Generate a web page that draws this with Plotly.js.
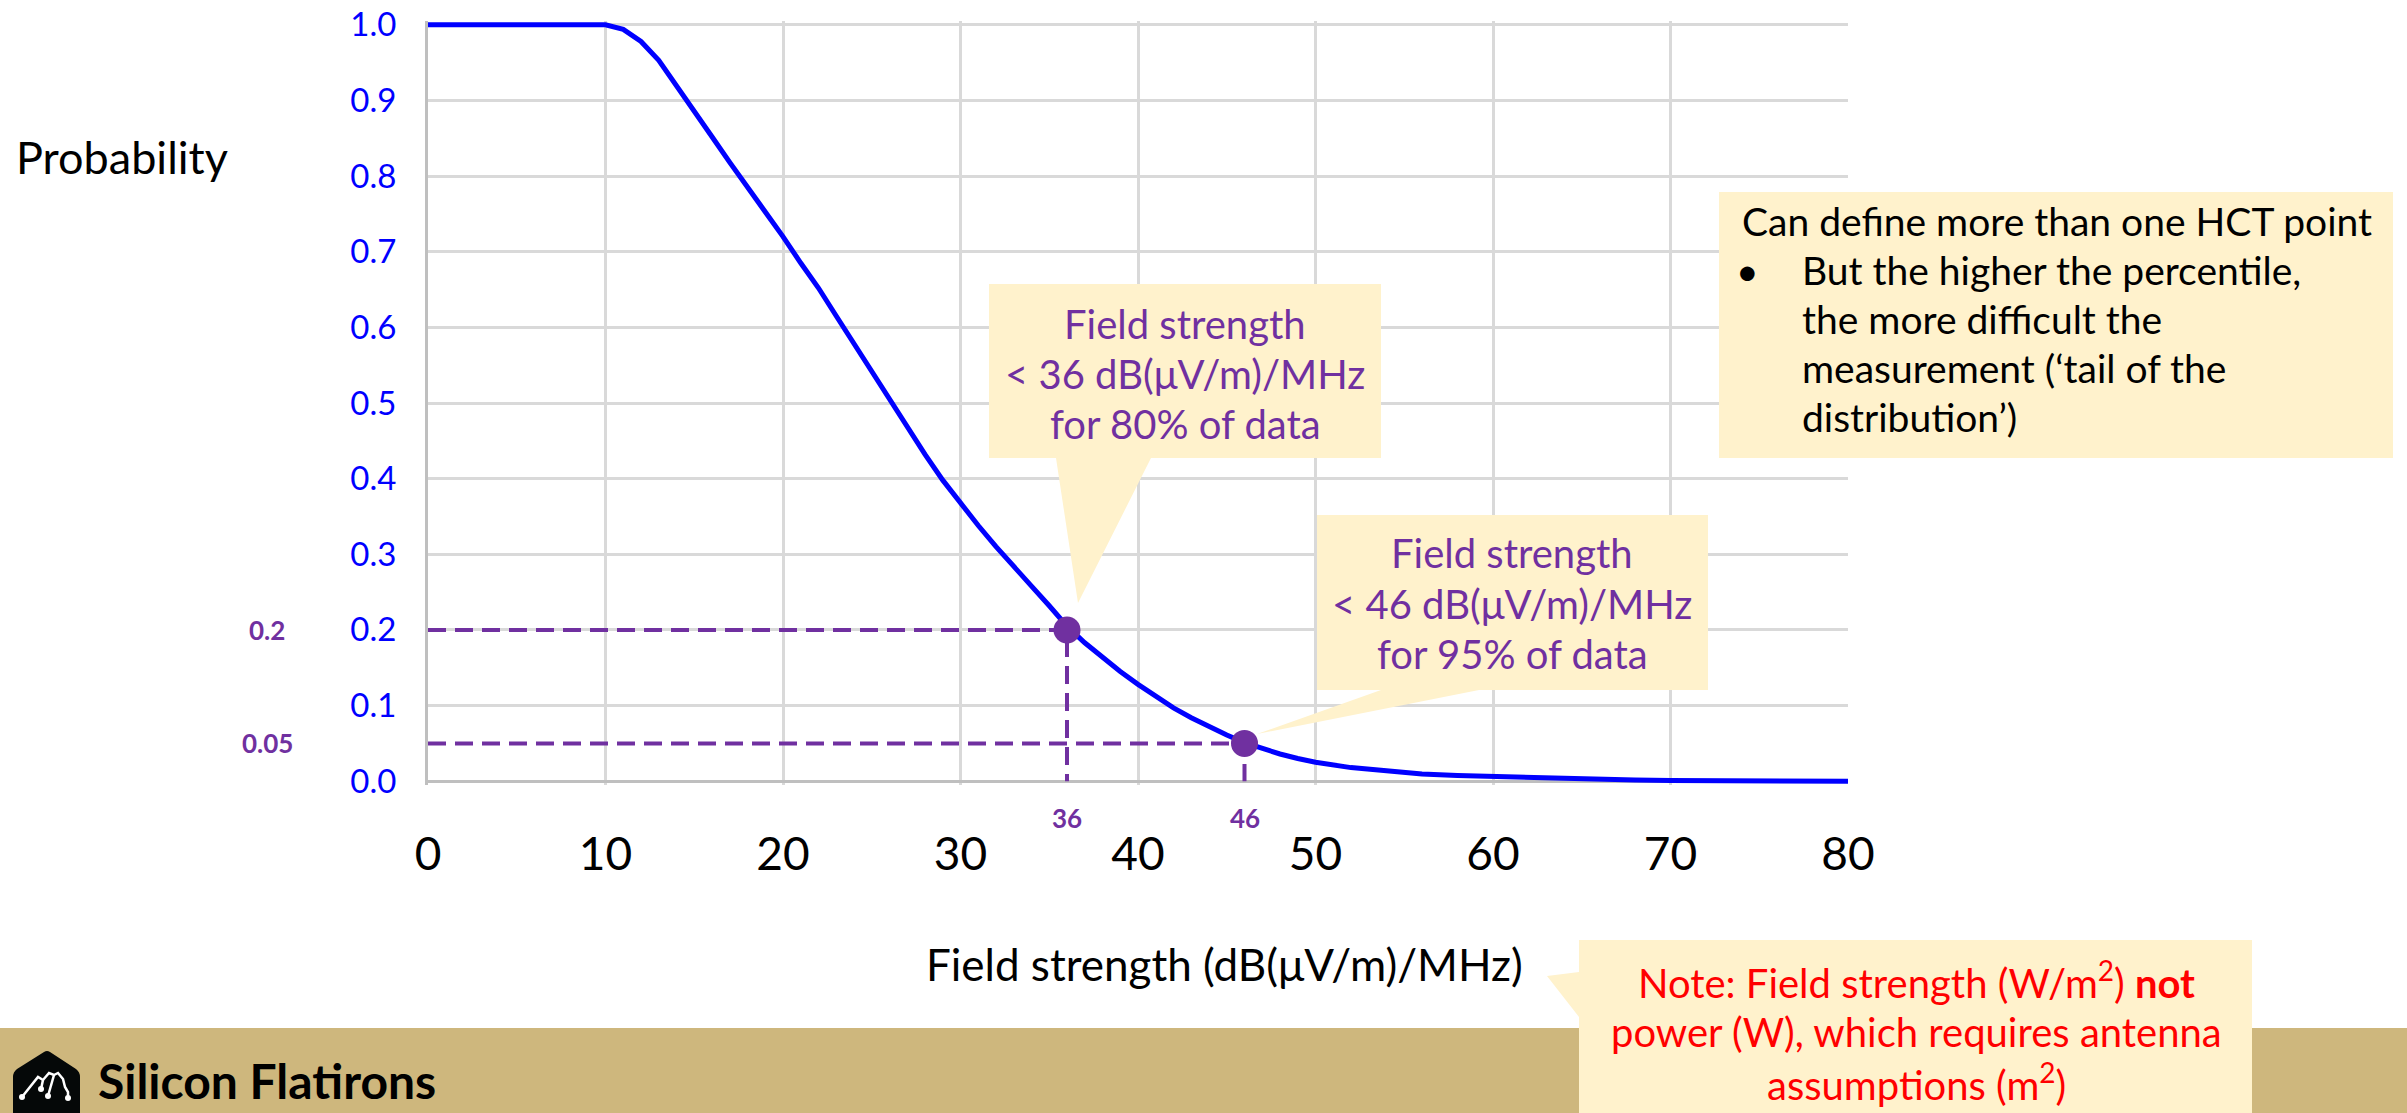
<!DOCTYPE html>
<html>
<head>
<meta charset="utf-8">
<script src="https://cdn.plot.ly/plotly-3.0.1.min.js"></script>
<style>
  html, body { margin: 0; padding: 0; background: #ffffff; }
  #chart { width: 2407px; height: 1113px; }
</style>
</head>
<body>
<div id="chart"></div>
<script>
// Complementary CDF of measured field strength
const fieldStrength = [0, 5, 10, 11, 12, 13, 14, 15, 16, 17, 18, 19, 20, 21, 22, 23, 24, 25, 26, 27, 28, 29, 30,
  31, 32, 33, 34, 35, 36, 37, 38, 39, 40, 41, 42, 43, 44, 45, 46, 47, 48, 49, 50,
  52, 54, 56, 58, 60, 62, 65, 68, 70, 75, 80];
const probability = [1, 1, 1, 0.994, 0.978, 0.953, 0.92, 0.885, 0.852, 0.818, 0.786, 0.754, 0.72,
  0.685, 0.652, 0.615, 0.578, 0.542, 0.507, 0.47, 0.432, 0.398, 0.367,
  0.338, 0.31, 0.283, 0.258, 0.232, 0.205, 0.183, 0.163, 0.145, 0.128,
  0.112, 0.097, 0.084, 0.072, 0.061, 0.051, 0.043, 0.036, 0.03, 0.025,
  0.018, 0.013, 0.0095, 0.0075, 0.006, 0.0045, 0.003, 0.0015, 0.001, 0.0003, 0];

// Harm claim thresholds (HCT points)
const thresholdField = [36, 46];
const thresholdProb = [0.2, 0.05];
const thresholdShare = ['80%', '95%'];

// Axis ticks
const xTicks = [0, 10, 20, 30, 40, 50, 60, 70, 80];
const yTicks = [0, 0.1, 0.2, 0.3, 0.4, 0.5, 0.6, 0.7, 0.8, 0.9, 1.0];
const yTickText = yTicks.map(v => v.toFixed(1));

// Page geometry (pixels) and helpers to place decorations in paper space
const W = 2407, H = 1113;
const M = { l: 428, r: 559, t: 21, b: 328 };
const PW = W - M.l - M.r;
const PH = H - M.t - M.b;
const fx = px => (px - M.l) / PW;
const fy = py => (H - M.b - py) / PH;
const pt = (x, y) => fx(x) + ',' + fy(y);
const poly = pts => 'M' + pts.map(p => pt(p[0], p[1])).join('L') + 'Z';
const line = pts => 'M' + pts.map(p => pt(p[0], p[1])).join('L');

const FONT = 'Lato, "Open Sans", "DejaVu Sans", sans-serif';
const PURPLE = '#7030A0';
const CALLOUT = '#FFF2CC';

// Traces
const traces = [];
thresholdField.forEach((xv, i) => {
  traces.push({
    x: [0, xv, xv], y: [thresholdProb[i], thresholdProb[i], 0],
    mode: 'lines', type: 'scatter', hoverinfo: 'skip', showlegend: false,
    line: { color: PURPLE, width: 4, dash: '18px,9px' }
  });
});
traces.push({
  x: fieldStrength, y: probability, mode: 'lines', type: 'scatter', showlegend: false,
  line: { color: '#0000FF', width: 5 }
});
traces.push({
  x: thresholdField, y: thresholdProb, mode: 'markers', type: 'scatter', showlegend: false,
  marker: { color: PURPLE, size: 27 }, cliponaxis: false
});

// Decorative shapes: footer band, logo, callouts
const shapes = [];
shapes.push({ type: 'rect', xref: 'paper', yref: 'paper', layer: 'above',
  x0: fx(0), x1: fx(W), y0: fy(H), y1: fy(1028), fillcolor: '#CEB77D', line: { width: 0 } });

// logo mark
shapes.push({ type: 'path', xref: 'paper', yref: 'paper', layer: 'above',
  path: 'M' + pt(13, 1113) + 'L' + pt(13, 1077) + 'Q' + pt(13, 1072) + ' ' + pt(17, 1069) +
    'L' + pt(44, 1052) + 'Q' + pt(47, 1050) + ' ' + pt(50, 1052) +
    'L' + pt(76, 1069) + 'Q' + pt(80, 1072) + ' ' + pt(80, 1077) + 'L' + pt(80, 1113) + 'Z',
  fillcolor: '#050808', line: { width: 0 } });
shapes.push({ type: 'path', xref: 'paper', yref: 'paper', layer: 'above',
  path: line([[22, 1097], [38, 1077], [43, 1080], [49, 1073], [54, 1075], [58, 1073], [63, 1079], [65, 1087], [68, 1092], [68, 1098]]),
  line: { color: '#ffffff', width: 2.5 } });
shapes.push({ type: 'path', xref: 'paper', yref: 'paper', layer: 'above',
  path: line([[43, 1080], [41, 1089]]), line: { color: '#ffffff', width: 2.5 } });
shapes.push({ type: 'path', xref: 'paper', yref: 'paper', layer: 'above',
  path: line([[54, 1075], [48, 1096]]), line: { color: '#ffffff', width: 2.5 } });
[[22, 1097], [41, 1089], [48, 1096], [68, 1098]].forEach(p => {
  shapes.push({ type: 'circle', xref: 'paper', yref: 'paper', layer: 'above',
    x0: fx(p[0] - 3), x1: fx(p[0] + 3), y0: fy(p[1] + 3), y1: fy(p[1] - 3),
    fillcolor: '#ffffff', line: { width: 0 } });
});

const calloutPaths = [
  [[989, 284], [1381, 284], [1381, 458], [1151, 458], [1078, 603], [1056, 458], [989, 458]],
  [[1317, 515], [1708, 515], [1708, 690], [1479, 690], [1257, 734], [1381, 690], [1317, 690]],
  [[1719, 192], [2393, 192], [2393, 458], [1719, 458]],
  [[1579, 940], [2252, 940], [2252, 1113], [1579, 1113], [1579, 1017], [1547, 976], [1579, 972]]
];
calloutPaths.forEach(p => {
  shapes.push({ type: 'path', xref: 'paper', yref: 'paper', layer: 'above',
    path: poly(p), fillcolor: CALLOUT, line: { width: 0 } });
});

// Annotations
const annotations = [];
const txt = (text, x, y, opts) => Object.assign({
  text: text, xref: 'paper', yref: 'paper', x: fx(x), y: fy(y),
  xanchor: 'center', yanchor: 'middle', showarrow: false,
  font: { family: FONT, size: 39, color: '#000000' }
}, opts || {});

annotations.push(txt('Probability', 14, 157, { xanchor: 'left', font: { family: FONT, size: 45, color: '#000000' } }));
annotations.push(txt('Field strength (dB(μV/m)/MHz)', 1224, 964, { font: { family: FONT, size: 44, color: '#000000' } }));

// threshold value labels next to the axes
thresholdProb.forEach(v => {
  annotations.push({ text: '<b>' + String(v) + '</b>', xref: 'paper', yref: 'y', x: fx(267), y: v,
    xanchor: 'center', yanchor: 'middle', showarrow: false,
    font: { family: FONT, size: 26, color: PURPLE } });
});
thresholdField.forEach(v => {
  annotations.push({ text: '<b>' + String(v) + '</b>', xref: 'x', yref: 'paper', x: v, y: fy(818),
    xanchor: 'center', yanchor: 'middle', showarrow: false,
    font: { family: FONT, size: 26, color: PURPLE } });
});

// callouts for each threshold
const calloutCenters = [[1185, [324, 374, 424]], [1512, [553, 604, 654]]];
thresholdField.forEach((v, i) => {
  const c = calloutCenters[i];
  const lines = ['Field strength', '&lt; ' + v + ' dB(μV/m)/MHz', 'for ' + thresholdShare[i] + ' of data'];
  lines.forEach((t, k) => {
    annotations.push(txt(t, c[0], c[1][k], { font: { family: FONT, size: 40, color: PURPLE } }));
  });
});

// side note
annotations.push(txt('Can define more than one HCT point', 1740, 221, { xanchor: 'left' }));
annotations.push(txt('•', 1747, 270, { xanchor: 'center' }));
['But the higher the percentile,', 'the more difficult the', 'measurement (‘tail of the', 'distribution’)']
  .forEach((t, k) => annotations.push(txt(t, 1800, 270 + 49 * k, { xanchor: 'left' })));

// note on units
const RED = '#FF0000';
annotations.push(txt('Note: Field strength (W/m<sup>2</sup>) <b>not</b>', 1916, 980, { font: { family: FONT, size: 40, color: RED } }));
annotations.push(txt('power (W), which requires antenna', 1916, 1032, { font: { family: FONT, size: 40, color: RED } }));
annotations.push(txt('assumptions (m<sup>2</sup>)', 1916, 1082, { font: { family: FONT, size: 40, color: RED } }));

// footer wordmark
annotations.push(txt('<b>Silicon Flatirons</b>', 96, 1080, { xanchor: 'left', font: { family: FONT, size: 48, color: '#000000' } }));

const layout = {
  width: W, height: H,
  margin: { l: M.l, r: M.r, t: M.t, b: M.b, pad: 0, autoexpand: false },
  paper_bgcolor: '#ffffff', plot_bgcolor: '#ffffff',
  showlegend: false, hovermode: false,
  xaxis: {
    range: [0, 80], tickvals: xTicks, ticktext: xTicks.map(String),
    showgrid: true, gridcolor: '#D9D9D9', gridwidth: 3,
    zeroline: false, showline: false,
    ticks: 'outside', ticklen: 29, tickcolor: 'rgba(0,0,0,0)',
    tickfont: { family: FONT, size: 46, color: '#000000' }
  },
  yaxis: {
    range: [-0.005, 1.005], tickvals: yTicks, ticktext: yTickText,
    showgrid: true, gridcolor: '#D9D9D9', gridwidth: 3,
    zeroline: true, zerolinecolor: '#BFBFBF', zerolinewidth: 3,
    showline: true, linecolor: '#BFBFBF', linewidth: 3,
    ticks: 'outside', ticklen: 22, tickcolor: 'rgba(0,0,0,0)',
    tickfont: { family: FONT, size: 33, color: '#0000FF' }
  },
  shapes: shapes,
  annotations: annotations
};

Plotly.newPlot('chart', traces, layout, { staticPlot: true, displayModeBar: false });
</script>
</body>
</html>
